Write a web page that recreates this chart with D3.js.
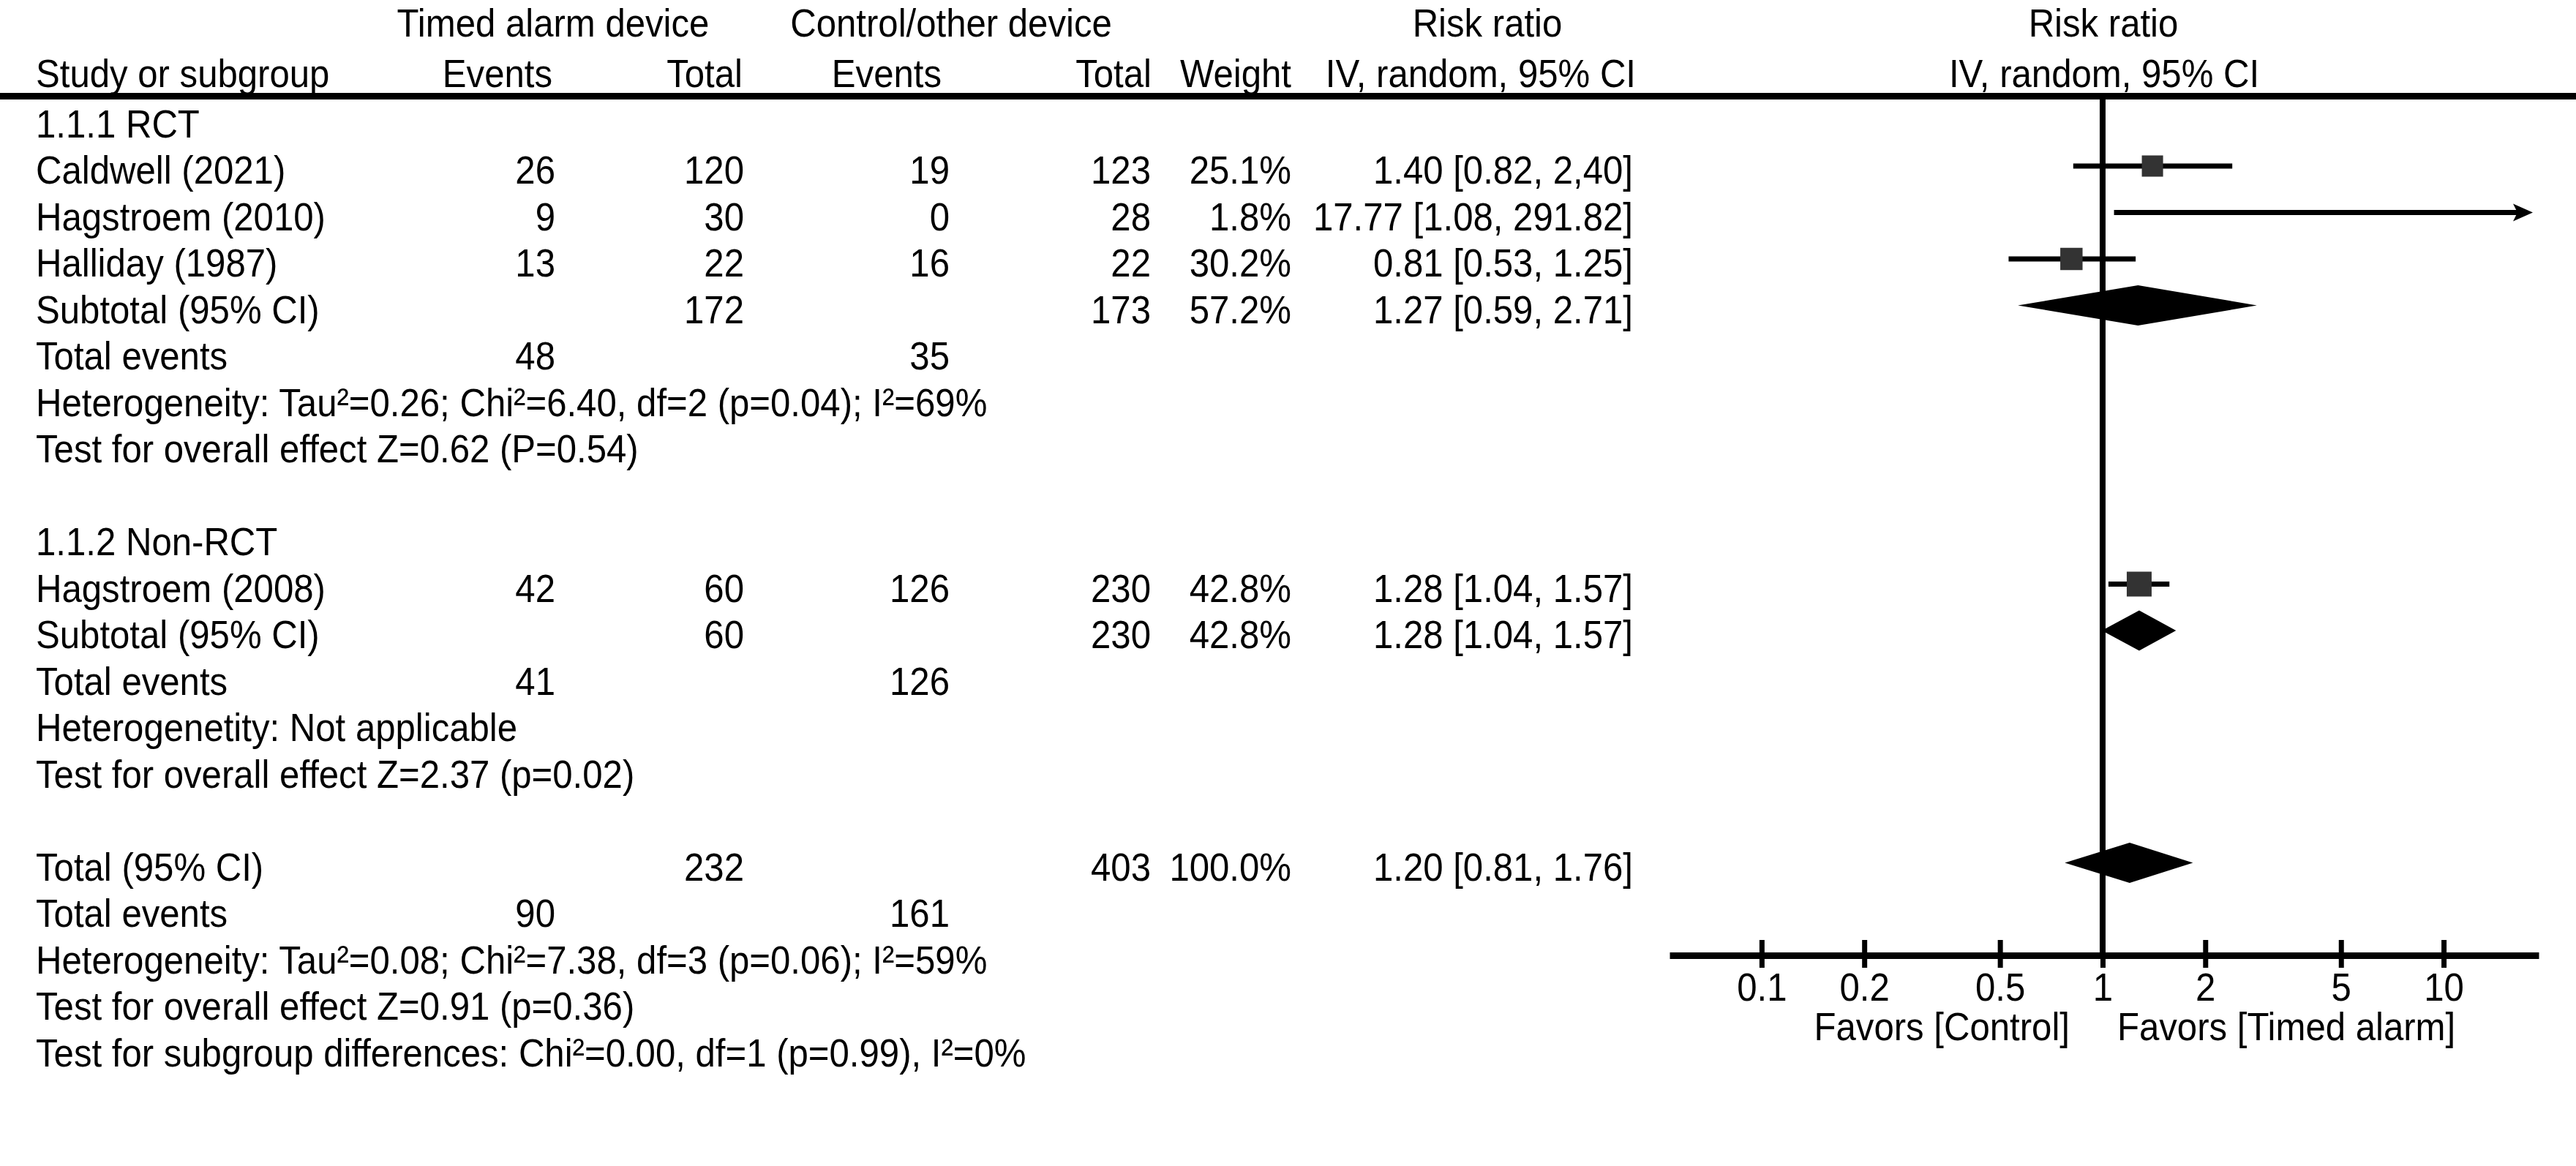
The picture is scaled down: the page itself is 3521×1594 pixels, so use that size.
<!DOCTYPE html>
<html>
<head>
  <meta charset="utf-8">
  <script src="https://d3js.org/d3.v7.min.js"></script>
  <style>
    body { margin: 0; background: #fff; }
    text { font-family: "Liberation Sans", Arial, sans-serif; fill: #000; }
  </style>
</head>
<body>
<script>
"use strict";

// ---- data ----
var studies     = ["Caldwell (2021)", "Hagstroem (2010)", "Halliday (1987)", "Hagstroem (2008)"];
var studyRows   = [1, 2, 3, 10];
var expEvents   = [26, 9, 13, 42];
var expTotal    = [120, 30, 22, 60];
var ctrlEvents  = [19, 0, 16, 126];
var ctrlTotal   = [123, 28, 22, 230];
var weights     = [25.1, 1.8, 30.2, 42.8];
var rr          = [1.40, 17.77, 0.81, 1.28];
var rrLow       = [0.82, 1.08, 0.53, 1.04];
var rrHigh      = [2.40, 291.82, 1.25, 1.57];
var ciLabels    = ["1.40 [0.82, 2,40]", "17.77 [1.08, 291.82]", "0.81 [0.53, 1.25]", "1.28 [1.04, 1.57]"];

var pooledNames     = ["Subtotal (95% CI)", "Subtotal (95% CI)", "Total (95% CI)"];
var pooledRows      = [4, 11, 16];
var pooledExpTotal  = [172, 60, 232];
var pooledCtrlTotal = [173, 230, 403];
var pooledWeight    = ["57.2%", "42.8%", "100.0%"];
var pooledRR        = [1.27, 1.28, 1.20];
var pooledLow       = [0.59, 1.04, 0.81];
var pooledHigh      = [2.71, 1.57, 1.76];
var pooledLabels    = ["1.27 [0.59, 2.71]", "1.28 [1.04, 1.57]", "1.20 [0.81, 1.76]"];

var eventRows   = [5, 12, 17];
var eventsExp   = [48, 41, 90];
var eventsCtrl  = [35, 126, 161];

var groupRows   = [0, 9];
var groupNames  = ["1.1.1 RCT", "1.1.2 Non-RCT"];

var noteRows    = [6, 7, 13, 14, 18, 19, 20];
var notes = [
  "Heterogeneity: Tau\u00b2=0.26; Chi\u00b2=6.40, df=2 (p=0.04); I\u00b2=69%",
  "Test for overall effect Z=0.62 (P=0.54)",
  "Heterogenetity: Not applicable",
  "Test for overall effect Z=2.37 (p=0.02)",
  "Heterogeneity: Tau\u00b2=0.08; Chi\u00b2=7.38, df=3 (p=0.06); I\u00b2=59%",
  "Test for overall effect Z=0.91 (p=0.36)",
  "Test for subgroup differences: Chi\u00b2=0.00, df=1 (p=0.99), I\u00b2=0%"
];

var tickValues  = [0.1, 0.2, 0.5, 1, 2, 5, 10];
var axisExtent  = [0.0537, 19];

// ---- layout ----
var W = 3521, H = 1594;
var FS = 54, SX = 0.91;
var col = { study: 49, expEv: 759, expTot: 1017, ctrlEv: 1298, ctrlTot: 1573, weight: 1765, ci: 2232 };
function rowY(i) { return 187.5 + 63.5 * i; }
var axisY = 1306;

var svg = d3.select("body").append("svg")
    .attr("width", W)
    .attr("height", H);

function txt(x, y, s, anchor) {
  return svg.append("text")
    .attr("transform", "translate(" + x + "," + y + ") scale(" + SX + ",1)")
    .attr("text-anchor", anchor || "start")
    .style("font-size", FS + "px")
    .text(s);
}

// header
txt(756, 50, "Timed alarm device", "middle");
txt(1300, 50, "Control/other device", "middle");
txt(2033, 50, "Risk ratio", "middle");
txt(2875, 50, "Risk ratio", "middle");
txt(col.study, 119, "Study or subgroup");
txt(755, 119, "Events", "end");
txt(1015, 119, "Total", "end");
txt(1287, 119, "Events", "end");
txt(1574, 119, "Total", "end");
txt(col.weight, 119, "Weight", "end");
txt(2236, 119, "IV, random, 95% CI", "end");
txt(2876, 119, "IV, random, 95% CI", "middle");

svg.append("line")
    .attr("x1", 0).attr("x2", W)
    .attr("y1", 131.5).attr("y2", 131.5)
    .attr("stroke", "#000").attr("stroke-width", 9);

// left table
groupRows.forEach(function(r, i) { txt(col.study, rowY(r), groupNames[i]); });

studies.forEach(function(s, i) {
  var y = rowY(studyRows[i]);
  txt(col.study, y, s);
  txt(col.expEv, y, expEvents[i], "end");
  txt(col.expTot, y, expTotal[i], "end");
  txt(col.ctrlEv, y, ctrlEvents[i], "end");
  txt(col.ctrlTot, y, ctrlTotal[i], "end");
  txt(col.weight, y, weights[i].toFixed(1) + "%", "end");
  txt(col.ci, y, ciLabels[i], "end");
});

pooledNames.forEach(function(s, i) {
  var y = rowY(pooledRows[i]);
  txt(col.study, y, s);
  txt(col.expTot, y, pooledExpTotal[i], "end");
  txt(col.ctrlTot, y, pooledCtrlTotal[i], "end");
  txt(col.weight, y, pooledWeight[i], "end");
  txt(col.ci, y, pooledLabels[i], "end");
});

eventRows.forEach(function(r, i) {
  var y = rowY(r);
  txt(col.study, y, "Total events");
  txt(col.expEv, y, eventsExp[i], "end");
  txt(col.ctrlEv, y, eventsCtrl[i], "end");
});

noteRows.forEach(function(r, i) { txt(col.study, rowY(r), notes[i]); });

// forest plot
var x = d3.scaleLog().domain(axisExtent).range([2282, 3470]);
var size = d3.scaleLinear().domain([0, 100]).range([22, 50]);
var markOff = 24;

svg.append("line")
    .attr("x1", x(1)).attr("x2", x(1))
    .attr("y1", 136).attr("y2", axisY)
    .attr("stroke", "#000").attr("stroke-width", 8);

var plot = svg.append("g");

studies.forEach(function(s, i) {
  var y = rowY(studyRows[i]) - markOff;
  var clipped = rrHigh[i] > axisExtent[1];
  var hi = clipped ? x(axisExtent[1]) - 8 : x(rrHigh[i]);
  var lo = x(Math.max(rrLow[i], axisExtent[0]));
  plot.append("line")
      .attr("x1", lo).attr("x2", clipped ? hi - 20 : hi)
      .attr("y1", y).attr("y2", y)
      .attr("stroke", "#000").attr("stroke-width", 7);
  if (clipped) {
    plot.append("path")
        .attr("d", "M" + hi + "," + y + "L" + (hi - 27) + "," + (y - 12) + "L" + (hi - 21) + "," + y + "L" + (hi - 27) + "," + (y + 12) + "Z")
        .attr("fill", "#000");
  } else {
    var sz = size(weights[i]);
    plot.append("rect")
        .attr("x", x(rr[i]) - sz / 2).attr("y", y - sz / 2)
        .attr("width", sz).attr("height", sz)
        .attr("fill", "#333");
  }
});

// pooled diamonds (drawn a little wider than the CI, as in the source)
pooledRR.forEach(function(v, i) {
  var y = rowY(pooledRows[i]) - markOff, h = 27.5, pad = 9;
  plot.append("path")
      .attr("d", "M" + (x(pooledLow[i]) - pad) + "," + y +
                 "L" + x(v) + "," + (y - h) +
                 "L" + (x(pooledHigh[i]) + pad) + "," + y +
                 "L" + x(v) + "," + (y + h) + "Z")
      .attr("fill", "#000");
});

// axis
var axis = svg.append("g")
    .attr("transform", "translate(0," + axisY + ")")
    .call(d3.axisBottom(x).tickValues(tickValues).tickSizeOuter(0).tickFormat(d3.format("")));
axis.select(".domain").attr("stroke", "#000").attr("stroke-width", 9);
axis.selectAll(".tick line")
    .attr("y1", -21).attr("y2", 17)
    .attr("stroke", "#000").attr("stroke-width", 7);
axis.selectAll(".tick text")
    .attr("y", 0).attr("dy", 0)
    .attr("transform", "translate(0,62) scale(" + SX + ",1)")
    .attr("font-family", null).attr("font-size", null)
    .style("font-size", FS + "px")
    .attr("fill", "#000");

txt(x(1) - 45, 1422, "Favors [Control]", "end");
txt(x(1) + 20, 1422, "Favors [Timed alarm]", "start");
</script>
</body>
</html>
